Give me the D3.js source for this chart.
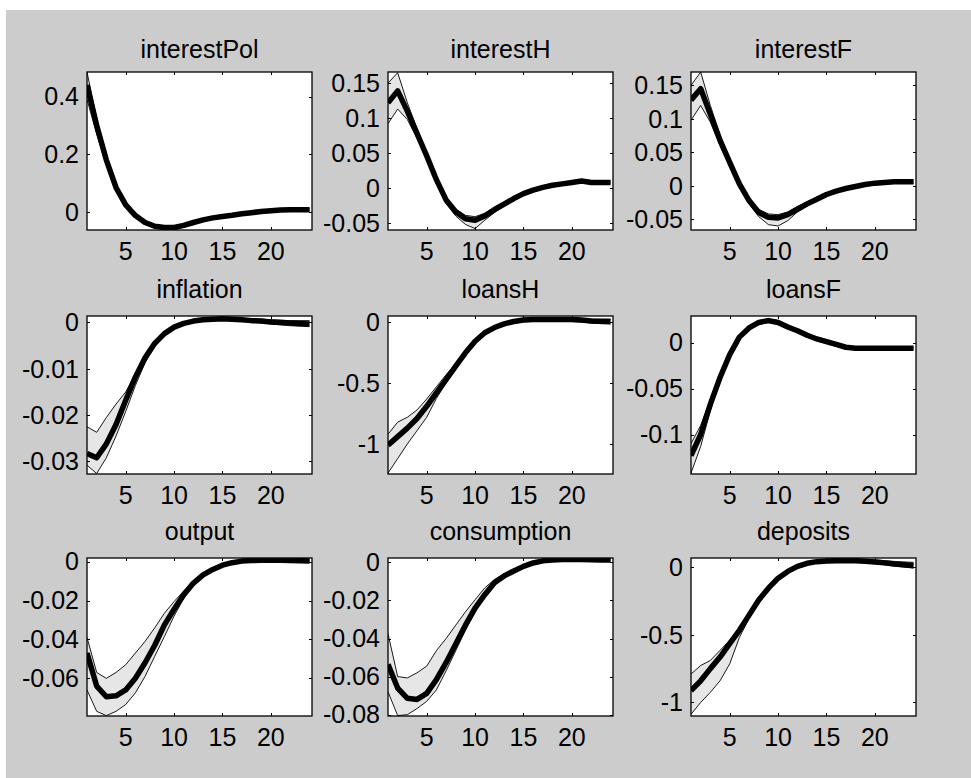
<!DOCTYPE html>
<html>
<head>
<meta charset="utf-8">
<script src="https://cdn.jsdelivr.net/npm/d3@7/dist/d3.min.js"></script>
<style>
body { margin: 0; background: #fff; }
svg { display: block; }
text { font-family: "Liberation Sans", Arial, sans-serif; font-size: 25px; fill: #000; }
</style>
</head>
<body>
<script>
// horizon (quarters)
var periods = [1, 2, 3, 4, 5, 6, 7, 8, 9, 10, 11, 12, 13, 14, 15, 16, 17, 18, 19, 20, 21, 22, 23, 24];
var xTicks = [5, 10, 15, 20];

var titles = ['interestPol', 'interestH', 'interestF', 'inflation', 'loansH', 'loansF', 'output', 'consumption', 'deposits'];

// median / upper / lower band of each response
var interestPolMed = [0.44, 0.30, 0.18, 0.085, 0.025, -0.012, -0.036, -0.049, -0.053, -0.053, -0.046, -0.036, -0.027, -0.020, -0.015, -0.011, -0.006, -0.002, 0.002, 0.005, 0.007, 0.008, 0.008, 0.008];
var interestPolUp = [0.485, 0.325, 0.195, 0.094, 0.031, -0.007, -0.032, -0.045, -0.049, -0.049, -0.042, -0.033, -0.024, -0.017, -0.012, -0.008, -0.003, 0.001, 0.005, 0.008, 0.010, 0.011, 0.011, 0.011];
var interestPolLo = [0.39, 0.27, 0.163, 0.075, 0.018, -0.017, -0.041, -0.055, -0.061, -0.062, -0.052, -0.040, -0.031, -0.023, -0.018, -0.014, -0.009, -0.005, -0.001, 0.002, 0.004, 0.005, 0.005, 0.005];

var interestHMed = [0.122, 0.139, 0.110, 0.078, 0.046, 0.012, -0.017, -0.034, -0.044, -0.046, -0.040, -0.031, -0.023, -0.015, -0.008, -0.003, 0.001, 0.004, 0.006, 0.008, 0.010, 0.008, 0.008, 0.008];
var interestHUp = [0.150, 0.165, 0.122, 0.085, 0.051, 0.016, -0.013, -0.030, -0.039, -0.041, -0.036, -0.027, -0.020, -0.012, -0.006, -0.001, 0.003, 0.006, 0.008, 0.010, 0.012, 0.010, 0.010, 0.010];
var interestHLo = [0.092, 0.113, 0.098, 0.071, 0.041, 0.008, -0.022, -0.040, -0.052, -0.058, -0.046, -0.035, -0.026, -0.018, -0.010, -0.005, -0.001, 0.002, 0.004, 0.006, 0.008, 0.006, 0.006, 0.006];

var interestFMed = [0.128, 0.145, 0.107, 0.068, 0.035, 0.003, -0.022, -0.040, -0.047, -0.048, -0.043, -0.035, -0.027, -0.020, -0.013, -0.008, -0.004, -0.001, 0.002, 0.004, 0.005, 0.006, 0.006, 0.006];
var interestFUp = [0.150, 0.170, 0.120, 0.076, 0.040, 0.007, -0.018, -0.035, -0.042, -0.043, -0.039, -0.031, -0.024, -0.017, -0.011, -0.006, -0.002, 0.001, 0.004, 0.006, 0.007, 0.008, 0.008, 0.008];
var interestFLo = [0.098, 0.120, 0.095, 0.060, 0.029, -0.002, -0.027, -0.046, -0.058, -0.060, -0.052, -0.039, -0.030, -0.022, -0.015, -0.010, -0.006, -0.003, 0.000, 0.002, 0.003, 0.004, 0.004, 0.004];

var inflationMed = [-0.0283, -0.0292, -0.0262, -0.0220, -0.0168, -0.0118, -0.0076, -0.0045, -0.0024, -0.0010, -0.0002, 0.0003, 0.0006, 0.0007, 0.0008, 0.0007, 0.0006, 0.0004, 0.0003, 0.0001, 0.0000, -0.0001, -0.0002, -0.0003];
var inflationUp = [-0.0225, -0.0237, -0.0205, -0.0176, -0.0150, -0.0110, -0.0071, -0.0041, -0.0021, -0.0008, 0.0000, 0.0005, 0.0008, 0.0009, 0.0010, 0.0010, 0.0009, 0.0008, 0.0007, 0.0006, 0.0005, 0.0004, 0.0004, 0.0004];
var inflationLo = [-0.0308, -0.0326, -0.0292, -0.0245, -0.0192, -0.0136, -0.0087, -0.0052, -0.0029, -0.0014, -0.0005, 0.0000, 0.0003, 0.0004, 0.0005, 0.0004, 0.0003, 0.0001, -0.0001, -0.0003, -0.0005, -0.0007, -0.0008, -0.0009];

var loansHMed = [-1.01, -0.94, -0.87, -0.79, -0.69, -0.58, -0.47, -0.36, -0.25, -0.155, -0.085, -0.042, -0.012, 0.008, 0.020, 0.025, 0.025, 0.025, 0.025, 0.024, 0.020, 0.012, 0.010, 0.010];
var loansHUp = [-0.92, -0.82, -0.78, -0.72, -0.63, -0.53, -0.43, -0.34, -0.235, -0.14, -0.07, -0.03, 0.0, 0.02, 0.03, 0.035, 0.037, 0.037, 0.036, 0.034, 0.031, 0.027, 0.025, 0.024];
var loansHLo = [-1.24, -1.12, -1.0, -0.89, -0.78, -0.625, -0.50, -0.38, -0.265, -0.17, -0.10, -0.055, -0.025, -0.005, 0.005, 0.010, 0.012, 0.012, 0.010, 0.007, 0.003, -0.005, -0.010, -0.014];

var loansFMed = [-0.123, -0.100, -0.067, -0.038, -0.013, 0.006, 0.016, 0.022, 0.024, 0.022, 0.017, 0.013, 0.008, 0.004, 0.001, -0.002, -0.005, -0.006, -0.006, -0.006, -0.006, -0.006, -0.006, -0.006];
var loansFUp = [-0.110, -0.090, -0.062, -0.035, -0.011, 0.008, 0.018, 0.024, 0.026, 0.024, 0.019, 0.015, 0.010, 0.006, 0.003, 0.000, -0.004, -0.005, -0.005, -0.005, -0.005, -0.005, -0.005, -0.005];
var loansFLo = [-0.142, -0.113, -0.074, -0.042, -0.016, 0.004, 0.014, 0.020, 0.022, 0.020, 0.015, 0.011, 0.006, 0.002, -0.001, -0.004, -0.006, -0.007, -0.007, -0.007, -0.007, -0.007, -0.007, -0.007];

var outputMed = [-0.047, -0.064, -0.0695, -0.069, -0.066, -0.060, -0.052, -0.043, -0.0325, -0.0245, -0.017, -0.011, -0.0068, -0.004, -0.0018, -0.0005, 0.0003, 0.0006, 0.0007, 0.0007, 0.0007, 0.0006, 0.0005, 0.0004];
var outputUp = [-0.039, -0.057, -0.060, -0.057, -0.053, -0.047, -0.041, -0.034, -0.0265, -0.0205, -0.0150, -0.0100, -0.0060, -0.0033, -0.0013, 0.0000, 0.0007, 0.0010, 0.0011, 0.0011, 0.0011, 0.0010, 0.0009, 0.0008];
var outputLo = [-0.066, -0.077, -0.0792, -0.077, -0.0735, -0.0675, -0.059, -0.0487, -0.0385, -0.028, -0.0188, -0.012, -0.0076, -0.0046, -0.0024, -0.0010, -0.0002, 0.0002, 0.0003, 0.0003, 0.0002, 0.0001, 0.0000, -0.0001];

var consumptionMed = [-0.0536, -0.066, -0.0714, -0.072, -0.0688, -0.0616, -0.0527, -0.0429, -0.033, -0.024, -0.017, -0.0107, -0.0071, -0.0045, -0.0021, -0.0003, 0.0008, 0.0013, 0.0015, 0.0015, 0.0015, 0.0014, 0.0013, 0.0012];
var consumptionUp = [-0.0375, -0.060, -0.0607, -0.058, -0.0545, -0.0464, -0.040, -0.033, -0.026, -0.0196, -0.0134, -0.0090, -0.0060, -0.0037, -0.0015, 0.0002, 0.0012, 0.0017, 0.0019, 0.0020, 0.0020, 0.0019, 0.0018, 0.0017];
var consumptionLo = [-0.068, -0.0805, -0.080, -0.0768, -0.073, -0.067, -0.057, -0.0464, -0.0357, -0.026, -0.018, -0.0118, -0.0080, -0.0052, -0.0027, -0.0008, 0.0003, 0.0009, 0.0011, 0.0011, 0.0011, 0.0010, 0.0009, 0.0008];

var depositsMed = [-0.913, -0.84, -0.75, -0.665, -0.566, -0.467, -0.355, -0.243, -0.156, -0.082, -0.032, 0.005, 0.028, 0.040, 0.045, 0.047, 0.047, 0.046, 0.043, 0.038, 0.031, 0.023, 0.017, 0.012];
var depositsUp = [-0.79, -0.727, -0.69, -0.615, -0.54, -0.454, -0.345, -0.235, -0.148, -0.075, -0.025, 0.012, 0.035, 0.048, 0.054, 0.057, 0.058, 0.058, 0.056, 0.053, 0.048, 0.042, 0.038, 0.035];
var depositsLo = [-1.087, -1.0, -0.925, -0.84, -0.715, -0.52, -0.38, -0.255, -0.166, -0.09, -0.04, -0.003, 0.020, 0.032, 0.037, 0.038, 0.037, 0.035, 0.031, 0.025, 0.017, 0.008, 0.000, -0.008];

// y limits (axis tight) and tick marks of each panel
var yLimits = [[-0.062, 0.485], [-0.06, 0.166], [-0.066, 0.17], [-0.0327, 0.0014], [-1.247, 0.053], [-0.143, 0.029], [-0.0794, 0.0019], [-0.0807, 0.0023], [-1.10, 0.067]];
var yTicks = [
	[0, 0.2, 0.4],
	[-0.05, 0, 0.05, 0.1, 0.15],
	[-0.05, 0, 0.05, 0.1, 0.15],
	[-0.03, -0.02, -0.01, 0],
	[-1, -0.5, 0],
	[-0.1, -0.05, 0],
	[-0.06, -0.04, -0.02, 0],
	[-0.08, -0.06, -0.04, -0.02, 0],
	[-1, -0.5, 0]
];

var medians = [interestPolMed, interestHMed, interestFMed, inflationMed, loansHMed, loansFMed, outputMed, consumptionMed, depositsMed];
var uppers = [interestPolUp, interestHUp, interestFUp, inflationUp, loansHUp, loansFUp, outputUp, consumptionUp, depositsUp];
var lowers = [interestPolLo, interestHLo, interestFLo, inflationLo, loansHLo, loansFLo, outputLo, consumptionLo, depositsLo];

// figure layout
var W = 971, H = 778;
var colLeft = [87, 388, 691];
var rowTop = [72, 316, 558];
var titleGap = [14, 18, 18];
var plotW = 225, plotH = 158;

var svg = d3.select('body').append('svg')
	.attr('width', W)
	.attr('height', H);

svg.append('rect')
	.attr('x', 6).attr('y', 10)
	.attr('width', W - 6).attr('height', H - 10)
	.attr('fill', '#cccccc');

titles.forEach(function(title, i) {
	var row = Math.floor(i / 3), col = i % 3;
	var left = colLeft[col], top = rowTop[row];

	var x = d3.scaleLinear().domain([1, 24.25]).range([0, plotW]);
	var y = d3.scaleLinear().domain(yLimits[i]).range([plotH, 0]);

	var rows = periods.map(function(t, k) {
		return { t: t, med: medians[i][k], up: uppers[i][k], lo: lowers[i][k] };
	});

	var g = svg.append('g')
		.attr('transform', 'translate(' + left + ',' + top + ')');

	g.append('rect')
		.attr('width', plotW).attr('height', plotH)
		.attr('fill', '#fff');

	g.append('clipPath').attr('id', 'clip' + i)
		.append('rect').attr('width', plotW).attr('height', plotH);

	var plot = g.append('g').attr('clip-path', 'url(#clip' + i + ')');

	// shaded band
	plot.append('path')
		.datum(rows)
		.attr('fill', '#e6e6e6')
		.attr('d', d3.area()
			.x(function(d) { return x(d.t); })
			.y0(function(d) { return y(d.lo); })
			.y1(function(d) { return y(d.up); }));

	['up', 'lo'].forEach(function(key) {
		plot.append('path')
			.datum(rows)
			.attr('fill', 'none')
			.attr('stroke', '#000')
			.attr('stroke-width', 0.9)
			.attr('d', d3.line()
				.x(function(d) { return x(d.t); })
				.y(function(d) { return y(d[key]); }));
	});

	plot.append('path')
		.datum(rows)
		.attr('fill', 'none')
		.attr('stroke', '#000')
		.attr('stroke-width', 5.5)
		.attr('stroke-linejoin', 'round')
		.attr('d', d3.line()
			.x(function(d) { return x(d.t); })
			.y(function(d) { return y(d.med); }));

	// inner ticks on all four sides (box on)
	var tickLen = 3;
	var axes = g.append('g')
		.attr('stroke', '#000')
		.attr('stroke-width', 1)
		.attr('shape-rendering', 'crispEdges');

	xTicks.forEach(function(v) {
		var px = Math.round(x(v)) + 0.5;
		axes.append('line').attr('x1', px).attr('x2', px).attr('y1', 0).attr('y2', tickLen);
		axes.append('line').attr('x1', px).attr('x2', px).attr('y1', plotH).attr('y2', plotH - tickLen);
	});
	yTicks[i].forEach(function(v) {
		var py = Math.round(y(v)) + 0.5;
		axes.append('line').attr('x1', 0).attr('x2', tickLen).attr('y1', py).attr('y2', py);
		axes.append('line').attr('x1', plotW).attr('x2', plotW - tickLen).attr('y1', py).attr('y2', py);
	});

	g.append('rect')
		.attr('width', plotW).attr('height', plotH)
		.attr('fill', 'none')
		.attr('stroke', '#000')
		.attr('stroke-width', 1.3);

	// tick labels
	g.selectAll('.xlab')
		.data(xTicks)
		.enter().append('text')
		.attr('class', 'xlab')
		.attr('x', function(d) { return x(d); })
		.attr('y', plotH + 30)
		.style('text-anchor', 'middle')
		.text(function(d) { return String(d); });

	g.selectAll('.ylab')
		.data(yTicks[i])
		.enter().append('text')
		.attr('class', 'ylab')
		.attr('x', -8)
		.attr('y', function(d) { return y(d); })
		.attr('dy', '.35em')
		.style('text-anchor', 'end')
		.text(function(d) { return String(d); });

	g.append('text')
		.attr('x', plotW / 2)
		.attr('y', -titleGap[row])
		.style('text-anchor', 'middle')
		.text(title);
});
</script>
</body>
</html>
